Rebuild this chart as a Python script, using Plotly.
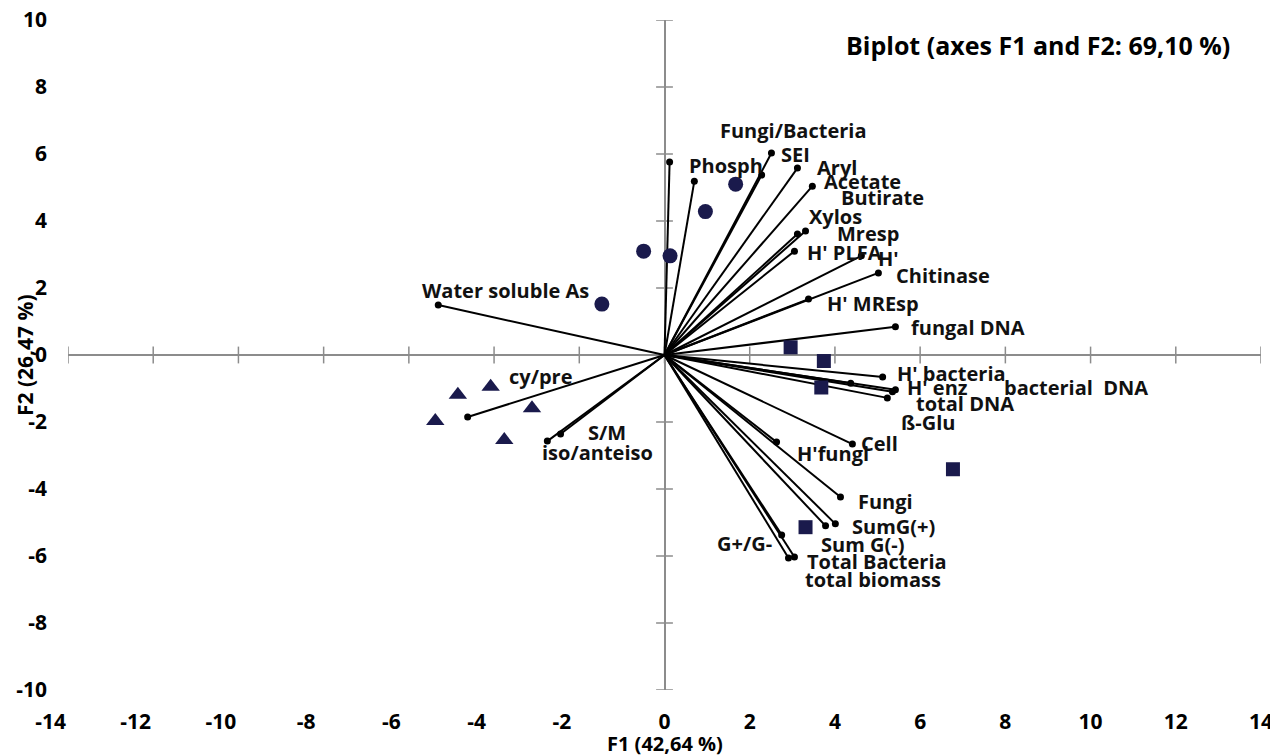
import plotly.graph_objects as go

# ---- data ----
var_names = ["Phosph", "Butirate", "Fungi/Bacteria", "SEI", "Aryl", "Acetate",
             "Mresp", "Xylos", "H' PLFA", "H'", "Chitinase", "H' MREsp",
             "fungal DNA", "H' bacteria", "ß-Glu", "H' enz", "bacterial  DNA",
             "total DNA", "Cell", "H'fungi", "Fungi", "SumG(+)", "Sum G(-)",
             "G+/G-", "Total Bacteria", "total biomass", "Water soluble As",
             "cy/pre", "S/M", "iso/anteiso"]
var_f1 = [0.12, 0.70, 2.28, 2.51, 3.12, 3.47, 3.31, 3.12, 3.05, 4.62, 5.02, 3.38,
          5.42, 5.12, 4.37, 5.42, 5.35, 5.23, 4.41, 2.63, 4.13, 4.01, 3.78, 2.75,
          3.05, 2.91, -5.31, -4.62, -2.44, -2.75]
var_f2 = [5.76, 5.19, 5.37, 6.03, 5.58, 5.04, 3.70, 3.61, 3.10, 2.96, 2.45, 1.67,
          0.84, -0.66, -0.84, -1.04, -1.10, -1.28, -2.66, -2.60, -4.24, -5.04, -5.10,
          -5.37, -6.03, -6.06, 1.49, -1.85, -2.36, -2.57]

circle_f1 = [1.67, 0.96, -0.49, 0.13, -1.47]
circle_f2 = [5.10, 4.28, 3.10, 2.96, 1.52]
square_f1 = [2.96, 3.74, 3.68, 6.77, 3.31]
square_f2 = [0.23, -0.18, -0.97, -3.41, -5.14]
triangle_f1 = [-4.08, -4.85, -3.11, -5.38, -3.76]
triangle_f2 = [-0.95, -1.19, -1.59, -1.97, -2.54]

tick_vals = list(range(-14, 15, 2))
tick_text = [str(v) for v in tick_vals]
ytick_vals = list(range(-10, 11, 2))
ytick_text = [str(v) for v in ytick_vals]

x_title = "F1 (42,64 %)"
y_title = "F2 (26,47 %)"
chart_title = "Biplot (axes F1 and F2: 69,10 %)"

# label offsets (pixels): (dx, dy up)
label_off = [(17, -3), (145, -16), (-44, 45), (8, -1), (18, 1), (10, 5),
             (29, -2), (10, 18), (11, -1), (15, -3), (16, -3), (16, -4),
             (14, -1), (12, 4), (48, -39), (10, 2), (110, 4),
             (27, -6), (7, 1), (18, -11), (16, -4), (15, -3), (-7, -19),
             (-67, -9), (11, -4), (15, -21), (-18, 15),
             (39, 40), (25, 2), (-7, -11)]

FONT = "Open Sans"
# negative x tick labels sit a little left of their ticks in the reference
NEG_PAD = "\u2003\u2002\u2009"
x_ticktext = [t + NEG_PAD if v < 0 else t for v, t in zip(tick_vals, tick_text)]

fig = go.Figure()

# axis tick marks along zero lines
fig.add_trace(go.Scatter(x=tick_vals, y=[0] * len(tick_vals), mode="markers",
                         marker=dict(symbol="line-ns", size=12,
                                     line=dict(color="#8c8c8c", width=1.5)),
                         hoverinfo="skip", showlegend=False))
fig.add_trace(go.Scatter(x=[0] * len(ytick_vals), y=ytick_vals, mode="markers",
                         marker=dict(symbol="line-ew", size=12,
                                     line=dict(color="#8c8c8c", width=1.5)),
                         hoverinfo="skip", showlegend=False))

# vectors
for n, x, y in zip(var_names, var_f1, var_f2):
    fig.add_trace(go.Scatter(x=[0, x], y=[0, y], mode="lines",
                             line=dict(color="black", width=2),
                             hoverinfo="skip", showlegend=False))
fig.add_trace(go.Scatter(x=var_f1, y=var_f2, mode="markers",
                         marker=dict(color="black", size=7),
                         text=var_names, showlegend=False))

obs_color = "#1a1a4c"
fig.add_trace(go.Scatter(x=circle_f1, y=circle_f2, mode="markers",
                         marker=dict(symbol="circle", size=15, color=obs_color),
                         showlegend=False))
fig.add_trace(go.Scatter(x=square_f1, y=square_f2, mode="markers",
                         marker=dict(symbol="square", size=14, color=obs_color),
                         showlegend=False))
fig.add_trace(go.Scatter(x=triangle_f1, y=triangle_f2, mode="markers",
                         marker=dict(symbol="triangle-up", size=16, color=obs_color),
                         showlegend=False))

for n, x, y, (dx, dy) in zip(var_names, var_f1, var_f2, label_off):
    fig.add_annotation(x=x, y=y, text=n, showarrow=False,
                       xanchor="left", yanchor="middle", xshift=dx, yshift=dy,
                       font=dict(family=FONT, size=20, color="#111111",
                                 weight="bold"))

fig.add_annotation(x=1, y=1, xref="paper", yref="paper", text=chart_title,
                   showarrow=False, xanchor="right", yanchor="middle",
                   xshift=-29, yshift=-25,
                   font=dict(family=FONT, size=25, color="black", weight="bold"))

fig.add_annotation(x=0, y=0, xref="x", yref="paper", text=x_title,
                   showarrow=False, xanchor="center", yanchor="middle",
                   yshift=-53,
                   font=dict(family=FONT, size=20, color="black", weight="bold"))
fig.add_annotation(x=0, y=0.5, xref="paper", yref="paper", text=y_title,
                   showarrow=False, xanchor="center", yanchor="middle",
                   xshift=-43, textangle=-90,
                   font=dict(family=FONT, size=21, color="black", weight="bold"))

fig.update_xaxes(range=[-14, 14], tickvals=tick_vals, ticktext=x_ticktext,
                 showgrid=False, automargin=False, ticklabeloverflow="allow",
                 zeroline=True, zerolinecolor="#8c8c8c", zerolinewidth=1.5,
                 showline=False, ticks="", fixedrange=True,
                 ticklabelstandoff=17,
                 tickfont=dict(family=FONT, size=21, color="black", weight="bold"))
fig.update_yaxes(range=[-10, 10], tickvals=ytick_vals, ticktext=ytick_text,
                 showgrid=False, automargin=False, ticklabeloverflow="allow",
                 zeroline=True, zerolinecolor="#8c8c8c", zerolinewidth=1.5,
                 showline=False, ticks="", fixedrange=True,
                 ticklabelstandoff=20,
                 tickfont=dict(family=FONT, size=21, color="black", weight="bold"))

# page body has an 8px margin: figure sized/offset so the plot area
# lands on the reference's pixel frame in the 1278x755 window
fig.update_layout(width=1270, height=747, plot_bgcolor="white",
                  paper_bgcolor="white",
                  margin=dict(l=60, r=17, t=12, b=65),
                  hovermode="closest")

fig.write_html("out.html")
